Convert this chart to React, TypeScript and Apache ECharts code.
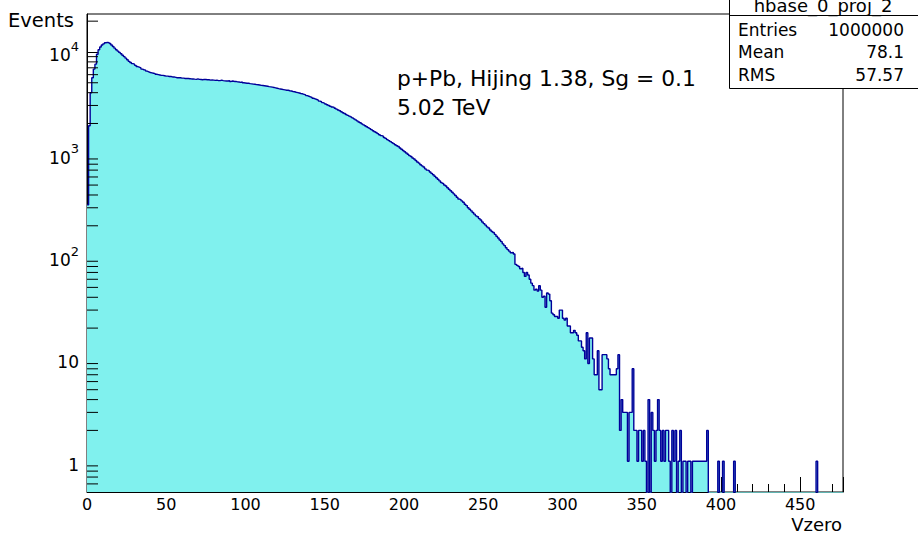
import React, { useEffect, useRef } from "react";
import * as echarts from "echarts";

// ---- data ----
const X_MIN = 0;
const X_MAX = 477;
const Y_MIN = 0.5;
const Y_MAX = 23500;
const ZERO_FLOOR = 0.1; // empty bins drop below the frame, like ROOT

// counts per unit-width bin, bin i spans [i, i+1)
const counts: number[] = [
  320, 1900, 4000, 5600, 6800, 7600, 9500, 10500, 11200, 11700,
  12000, 12300, 12400, 12300, 12100, 11700, 11300, 10900, 10500, 10200,
  9900, 9600, 9300, 9000, 8700, 8400, 8100, 7900, 7700, 7600,
  7400, 7200, 7100, 7000, 6800, 6700, 6650, 6500, 6400, 6300,
  6250, 6200, 6150, 6050, 6000, 5950, 5900, 5900, 5850, 5800,
  5800, 5750, 5750, 5700, 5700, 5650, 5600, 5600, 5600, 5550,
  5550, 5500, 5500, 5500, 5480, 5450, 5450, 5420, 5400, 5450,
  5400, 5380, 5350, 5400, 5380, 5350, 5350, 5300, 5320, 5300,
  5280, 5300, 5250, 5250, 5300, 5250, 5220, 5200, 5200, 5250,
  5150, 5200, 5150, 5150, 5100, 5080, 5050, 5100, 5000, 4980,
  4950, 4950, 4900, 4880, 4850, 4830, 4800, 4780, 4750, 4720,
  4700, 4680, 4650, 4620, 4580, 4560, 4530, 4500, 4460, 4420,
  4380, 4350, 4320, 4290, 4260, 4230, 4220, 4180, 4150, 4110,
  4080, 4040, 4010, 3970, 3930, 3900, 3850, 3800, 3740, 3690,
  3640, 3590, 3530, 3480, 3430, 3380, 3310, 3260, 3200, 3150,
  3100, 3050, 3000, 2950, 2900, 2870, 2820, 2760, 2710, 2660,
  2600, 2550, 2500, 2450, 2400, 2360, 2320, 2270, 2220, 2170,
  2120, 2070, 2030, 1980, 1940, 1900, 1860, 1820, 1780, 1740,
  1700, 1660, 1630, 1590, 1550, 1520, 1500, 1460, 1430, 1390,
  1360, 1330, 1300, 1270, 1240, 1210, 1190, 1150, 1120, 1090,
  1060, 1030, 1000, 970, 950, 920, 900, 870, 840, 820,
  790, 770, 750, 720, 700, 690, 670, 650, 630, 610,
  590, 570, 550, 530, 520, 500, 490, 470, 455, 440,
  425, 410, 395, 380, 365, 360, 350, 340, 325, 315,
  300, 290, 280, 270, 260, 250, 245, 235, 228, 218,
  210, 203, 195, 190, 182, 176, 172, 165, 158, 152,
  145, 140, 133, 128, 122, 117, 113, 109, 110, 106,
  84, 82, 80, 76, 77, 70, 64, 70, 66, 60,
  55, 52, 47, 48, 46, 52, 47, 40, 41, 32,
  44, 43, 37, 28, 27, 26, 26, 25, 30, 30,
  25, 24, 25, 21, 21, 18, 18, 19, 18, 17,
  15, 15, 13, 12, 10, 18, 9, 16, 16, 10,
  7, 7, 12, 5, 5, 11, 11, 11, 10, 8,
  7, 7, 7, 7, 8, 11, 2, 4, 3, 3,
  3, 1, 3, 3, 8, 2, 2, 1, 2, 2,
  1, 2, 1, 0, 4, 0, 3, 2, 1, 2,
  4, 2, 1, 2, 1, 2, 2, 1, 0, 2,
  1, 2, 0, 1, 2, 0, 1, 1, 0, 1,
  1, 0, 1, 1, 1, 1, 1, 1, 1, 1,
  1, 2, 0, 0, 0, 0, 0, 0, 1, 0,
  0, 1, 0, 0, 0, 0, 0, 0, 1, 0,
  0, 0, 0, 0, 0, 0, 0, 0, 0, 0,
  0, 0, 0, 0, 0, 0, 0, 0, 0, 0,
  0, 0, 0, 0, 0, 0, 0, 0, 0, 0,
  0, 0, 0, 0, 0, 0, 0, 0, 0, 0,
  0, 0, 0, 0, 0, 0, 0, 0, 0, 0,
  1, 0, 0, 0, 0, 0, 0, 0, 0, 0,
  0, 0, 0, 0, 0, 0, 0,
];

const yMinorTicks = [
  0.6, 0.7, 0.8, 0.9,
  2, 3, 4, 5, 6, 7, 8, 9,
  20, 30, 40, 50, 60, 70, 80, 90,
  200, 300, 400, 500, 600, 700, 800, 900,
  2000, 3000, 4000, 5000, 6000, 7000, 8000, 9000,
  20000,
];

const yTitle = "Events";
const xTitle = "Vzero";
const annotationLines = ["p+Pb, Hijing 1.38, Sg = 0.1", "5.02 TeV"];
const statsTitle = "hbase_0_proj_2";
const statsLabels = ["Entries", "Mean", "RMS"];
const statsValues = ["1000000", "78.1", "57.57"];

const LINE_COLOR = "#000099";
const FILL_COLOR = "#80f1ee";
const FONT = "DejaVu Sans";

export default function App() {
  const ref = useRef<HTMLDivElement>(null);

  useEffect(() => {
    document.body.style.margin = "0";
    const el = ref.current!;
    const chart = echarts.init(el, null, { renderer: "svg" });

    const data: number[][] = counts.map((c, i) => [i, c > 0 ? c : ZERO_FLOOR]);
    const last = counts[counts.length - 1];
    data.push([counts.length, last > 0 ? last : ZERO_FLOOR]);

    chart.setOption({
      animation: false,
      backgroundColor: "#fff",
      grid: {
        left: 87,
        right: 75,
        top: 14,
        bottom: 42,
        show: true,
        borderColor: "#000",
        borderWidth: 1,
        backgroundColor: "#fff",
      },
      xAxis: {
        type: "value",
        min: X_MIN,
        max: X_MAX,
        interval: 50,
        axisLine: { show: true, onZero: false, lineStyle: { color: "#000", width: 1 } },
        axisTick: { show: true, inside: true, length: 15, lineStyle: { color: "#000", width: 1 } },
        minorTick: { show: true, splitNumber: 5, length: 8, lineStyle: { color: "#000", width: 1 } },
        axisLabel: {
          margin: 4,
          fontSize: 16,
          fontFamily: FONT,
          color: "#000",
          showMaxLabel: false,
        },
        splitLine: { show: false },
      },
      yAxis: {
        type: "log",
        logBase: 10,
        min: Y_MIN,
        max: Y_MAX,
        axisLine: { show: true, lineStyle: { color: "#000", width: 1 } },
        axisTick: { show: true, inside: true, length: 23, lineStyle: { color: "#000", width: 1 } },
        axisLabel: {
          margin: 8,
          showMinLabel: false,
          showMaxLabel: false,
          color: "#000",
          fontFamily: FONT,
          fontSize: 17,
          formatter: (v: number) => {
            const e = Math.round(Math.log10(v));
            if (e === 0) return "{b|1}";
            if (e === 1) return "{b|10}";
            return "{b|10}{s|" + e + "}";
          },
          rich: {
            b: { fontSize: 17, fontFamily: FONT, color: "#000", lineHeight: 24, verticalAlign: "bottom" },
            s: { fontSize: 13, fontFamily: FONT, color: "#000", verticalAlign: "top" },
          },
        },
        splitLine: { show: false },
      },
      series: [
        {
          type: "line",
          step: "end",
          data,
          symbol: "none",
          clip: true,
          lineStyle: { color: LINE_COLOR, width: 1.4 },
          areaStyle: { color: FILL_COLOR, opacity: 1, origin: "start" },
          z: 2,
        },
      ],
    });

    const x0 = chart.convertToPixel({ xAxisIndex: 0 }, X_MIN) as number;
    const graphics: any[] = [];
    yMinorTicks.forEach((v) => {
      const y = chart.convertToPixel({ yAxisIndex: 0 }, v) as number;
      graphics.push({
        type: "line",
        z: 50,
        shape: { x1: x0, y1: y, x2: x0 + 11, y2: y },
        style: { stroke: "#000", lineWidth: 1 },
      });
    });

    graphics.push({
      type: "text",
      z: 60,
      x: 8,
      y: 20,
      style: { text: yTitle, fontSize: 19.5, fontFamily: FONT, fill: "#000", textAlign: "left", textVerticalAlign: "middle" },
    });
    graphics.push({
      type: "text",
      z: 60,
      x: 842,
      y: 524,
      style: { text: xTitle, fontSize: 18, fontFamily: FONT, fill: "#000", textAlign: "right", textVerticalAlign: "middle" },
    });
    annotationLines.forEach((t, i) => {
      graphics.push({
        type: "text",
        z: 60,
        x: 397,
        y: 78 + i * 29,
        style: { text: t, fontSize: 21.8, fontFamily: FONT, fill: "#000", textAlign: "left", textVerticalAlign: "middle" },
      });
    });

    // stats box
    graphics.push({
      type: "rect",
      z: 70,
      shape: { x: 729.5, y: -5, width: 200, height: 93.5 },
      style: { fill: "#fff", stroke: "#000", lineWidth: 1 },
    });
    graphics.push({
      type: "line",
      z: 71,
      shape: { x1: 729.5, y1: 15.5, x2: 930, y2: 15.5 },
      style: { stroke: "#000", lineWidth: 1 },
    });
    graphics.push({
      type: "text",
      z: 72,
      x: 823,
      y: 5,
      style: { text: statsTitle, fontSize: 18, fontFamily: FONT, fill: "#000", textAlign: "center", textVerticalAlign: "middle" },
    });
    const rowY = [30, 52, 74.5];
    statsLabels.forEach((lab, i) => {
      graphics.push({
        type: "text",
        z: 72,
        x: 738,
        y: rowY[i],
        style: { text: lab, fontSize: 17, fontFamily: FONT, fill: "#000", textAlign: "left", textVerticalAlign: "middle" },
      });
      graphics.push({
        type: "text",
        z: 72,
        x: 904,
        y: rowY[i],
        style: { text: statsValues[i], fontSize: 17, fontFamily: FONT, fill: "#000", textAlign: "right", textVerticalAlign: "middle" },
      });
    });

    chart.setOption({ graphic: graphics });

    return () => {
      chart.dispose();
    };
  }, []);

  return <div ref={ref} style={{ width: 918, height: 534 }} />;
}
